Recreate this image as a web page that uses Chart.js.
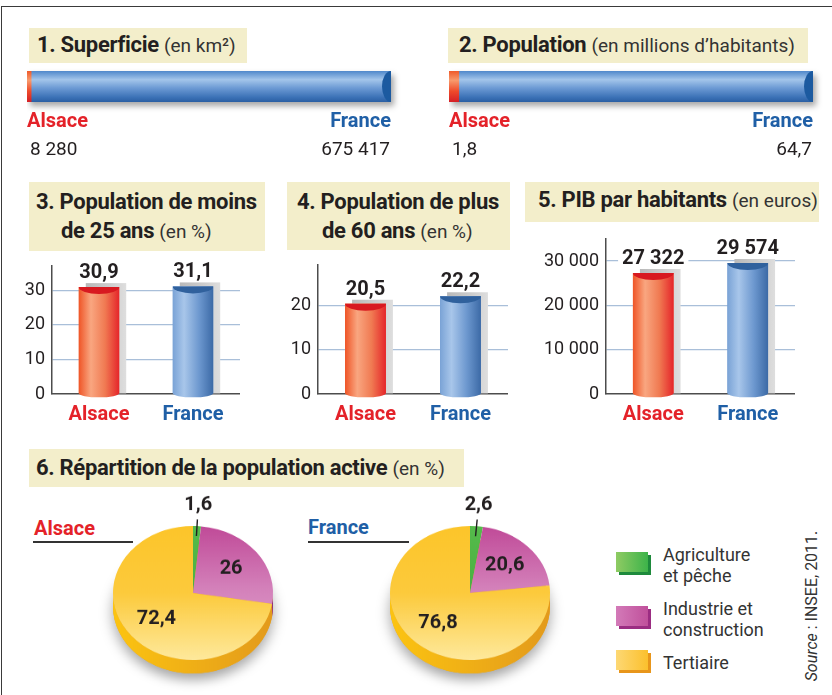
<!DOCTYPE html>
<html><head><meta charset="utf-8">
<script src="https://cdn.jsdelivr.net/npm/chart.js@4/dist/chart.umd.min.js"></script>
<style>
html,body{margin:0;padding:0;background:#fff;}
body{width:832px;height:695px;position:relative;overflow:hidden;font-family:Roboto,'DejaVu Sans',sans-serif;color:#231f20;}
.abs{position:absolute;}
.frame{position:absolute;left:1px;top:6px;width:900px;height:760px;border-top:1.5px solid #3a3a3a;border-left:1.5px solid #3a3a3a;}
.tbox{position:absolute;background:#f3eecb;}
.t{position:absolute;white-space:nowrap;font-size:22px;line-height:29px;font-weight:700;color:#231f20;letter-spacing:-0.3px;}
.t span{font-weight:400;font-size:19px;color:#333;letter-spacing:0;}
.rl{position:absolute;font-size:20px;line-height:24px;font-weight:700;white-space:nowrap;}
.ul{position:absolute;height:1.5px;background:#333;}
#legend{position:absolute;left:616px;top:544px;display:flex;flex-direction:column;gap:12px;}
.lrow{display:flex;align-items:center;}
.lbox{width:32px;height:20px;margin-right:15px;margin-top:-6px;}
.ltxt{font-size:18px;line-height:21px;color:#333;white-space:nowrap;}
.src{position:absolute;left:732px;top:596px;width:160px;text-align:center;font-size:16px;line-height:20px;color:#333;transform:rotate(-90deg);white-space:nowrap;}
</style></head>
<body>
<div class="frame"></div>

<div class="tbox" style="left:29px;top:28px;width:218px;height:35px"></div>
<div class="t" style="left:37px;top:30px">1. Superficie <span>(en km²)</span></div>
<div class="tbox" style="left:448px;top:28px;width:360px;height:35px"></div>
<div class="t" style="left:459px;top:30px">2. Population <span>(en millions d’habitants)</span></div>

<div class="tbox" style="left:29px;top:182px;width:236px;height:69px"></div>
<div class="t" style="left:36px;top:187px">3. Population de moins</div>
<div class="t" style="left:61px;top:216px">de 25 ans <span>(en %)</span></div>
<div class="tbox" style="left:287px;top:182px;width:223px;height:68px"></div>
<div class="t" style="left:297px;top:187px">4. Population de plus</div>
<div class="t" style="left:322px;top:216px">de 60 ans <span>(en %)</span></div>
<div class="tbox" style="left:525px;top:182px;width:294px;height:40px"></div>
<div class="t" style="left:538px;top:185px">5. PIB par habitants <span>(en euros)</span></div>

<div class="tbox" style="left:29px;top:449px;width:435px;height:38px"></div>
<div class="t" style="left:36px;top:453px">6. Répartition de la population active <span>(en %)</span></div>

<div class="abs" style="left:27px;top:65px;width:374px;height:100px"><canvas id="c1"></canvas></div>
<div class="abs" style="left:449px;top:65px;width:374px;height:100px"><canvas id="c2"></canvas></div>
<div class="abs" style="left:12px;top:256px;width:228px;height:178px"><canvas id="c3"></canvas></div>
<div class="abs" style="left:278px;top:255px;width:230px;height:179px"><canvas id="c4"></canvas></div>
<div class="abs" style="left:526px;top:229px;width:269px;height:205px"><canvas id="c5"></canvas></div>

<div class="rl" id="lblA" style="left:34px;top:516px"></div>
<div class="ul" style="left:33px;top:541px;width:100px"></div>
<div class="rl" id="lblF" style="left:308px;top:515px"></div>
<div class="ul" style="left:308px;top:541px;width:101px"></div>

<div class="abs" id="p1" style="left:93px;top:473px;width:200px;height:240px;transform-origin:100px 120px"><canvas id="c6"></canvas></div>
<div class="abs" id="p2" style="left:370px;top:473px;width:200px;height:240px;transform-origin:100px 120px"><canvas id="c7"></canvas></div>

<div id="legend"></div>
<div class="src"><i>Source</i> : INSEE, 2011.</div>

<script>
// ---------- DATA ----------
const regions = ['Alsace', 'France'];
const superficie = [8280, 675417];
const population = [1.8, 64.7];
const moins25 = [30.9, 31.1];
const plus60 = [20.5, 22.2];
const pib = [27322, 29574];
const ticksPct3 = [0, 10, 20, 30];
const ticksPct4 = [0, 10, 20];
const ticksPib = [0, 10000, 20000, 30000];
const secteurs = [['Agriculture', 'et pêche'], ['Industrie et', 'construction'], ['Tertiaire']];
const activeAlsace = [1.6, 26, 72.4];
const activeFrance = [2.6, 20.6, 76.8];

// ---------- STYLE ----------
const regionColors = ['#e42229', '#1f5fa6'];
const FONT = 'Roboto';
const TXT = '#231f20';
const PIE_K = 0.8375;
Chart.defaults.font.family = FONT;
Chart.defaults.animation = false;

function fmt(v) {
  const s = String(v).split('.');
  s[0] = s[0].replace(/\B(?=(\d{3})+(?!\d))/g, ' ');
  return s.join(',');
}

// ---------- horizontal bars ----------
const hbarPlugin = {
  id: 'hbar3d',
  beforeDatasetsDraw(chart) {
    const ctx = chart.ctx;
    const el = chart.getDatasetMeta(1).data[0];
    const p = el.getProps(['x', 'y', 'base', 'height'], true);
    ctx.save();
    ctx.shadowColor = 'rgba(0,0,0,0.35)';
    ctx.shadowBlur = 6; ctx.shadowOffsetX = 3; ctx.shadowOffsetY = 4;
    ctx.fillStyle = '#4a7fc4';
    ctx.fillRect(p.base, p.y - p.height / 2, p.x - p.base, p.height);
    ctx.restore();
  },
  afterDatasetsDraw(chart) {
    const ctx = chart.ctx, ca = chart.chartArea;
    const stops = [
      [[0, '#ef5a2a'], [0.3, '#f89a6c'], [0.65, '#ee4b2b'], [1, '#d41f26']],
      [[0, '#5088cb'], [0.28, '#a3c5ea'], [0.55, '#6c9ad4'], [0.85, '#3b71b6'], [1, '#2a5fa3']]
    ];
    [1, 0].forEach(di => {
      const el = chart.getDatasetMeta(di).data[0];
      const p = el.getProps(['x', 'y', 'base', 'height'], true);
      const top = p.y - p.height / 2;
      const g = ctx.createLinearGradient(0, top, 0, top + p.height);
      stops[di].forEach(s => g.addColorStop(s[0], s[1]));
      ctx.fillStyle = g;
      ctx.fillRect(p.base, top, p.x - p.base, p.height);
      if (di === 1) {
        ctx.beginPath();
        ctx.ellipse(p.x, p.y, 9, p.height / 2, 0, Math.PI / 2, Math.PI * 1.5);
        ctx.closePath();
        ctx.fillStyle = '#1c5aa0';
        ctx.fill();
      }
    });
    const vals = chart.data.datasets.map(d => d.data[0]);
    ctx.save();
    ctx.font = 'bold 20px ' + FONT;
    ctx.textBaseline = 'alphabetic';
    ctx.fillStyle = regionColors[0]; ctx.textAlign = 'left';
    ctx.fillText(regions[0], ca.left, ca.bottom + 25);
    ctx.fillStyle = regionColors[1]; ctx.textAlign = 'right';
    ctx.fillText(regions[1], ca.right, ca.bottom + 25);
    ctx.font = '19px ' + FONT; ctx.fillStyle = TXT;
    ctx.textAlign = 'left';
    ctx.fillText(fmt(vals[0]), ca.left + 3, ca.bottom + 53);
    ctx.textAlign = 'right';
    ctx.fillText(fmt(vals[1]), ca.right - 1, ca.bottom + 53);
    ctx.restore();
  }
};

function hbar(id, values) {
  new Chart(document.getElementById(id), {
    type: 'bar',
    data: {
      labels: [''],
      datasets: regions.map((r, i) => ({
        label: r, data: [values[i]], grouped: false, order: i + 1,
        backgroundColor: i === 0 ? '#ee4b2b' : '#4f84c8',
        barPercentage: 1, categoryPercentage: 1
      }))
    },
    options: {
      indexAxis: 'y', responsive: true, maintainAspectRatio: false,
      layout: { padding: { left: 0, right: 10, top: 6, bottom: 63 } },
      scales: { x: { display: false, min: 0, max: values[1] }, y: { display: false } },
      plugins: { legend: { display: false }, tooltip: { enabled: false } }
    },
    plugins: [hbarPlugin]
  });
}

// ---------- vertical cylinders ----------
const cylColors = [
  { stops: [[0, '#ef5527'], [0.3, '#f9a680'], [0.65, '#f07a52'], [1, '#e5252a']], cap: '#d81920' },
  { stops: [[0, '#7aa3d6'], [0.28, '#a8c6ea'], [0.65, '#6d98cf'], [1, '#3c6aa6']], cap: '#30619d' }
];
const cylPlugin = {
  id: 'cyl',
  beforeDatasetsDraw(chart) {
    const ctx = chart.ctx;
    chart.getDatasetMeta(0).data.forEach(el => {
      const p = el.getProps(['x', 'y', 'base', 'width'], true);
      const l = p.x - p.width / 2 + 7, t = p.y - 4;
      const g = ctx.createLinearGradient(l, 0, l + p.width, 0);
      g.addColorStop(0, '#b9b9b9'); g.addColorStop(0.6, '#cdcdcd'); g.addColorStop(1, '#dedede');
      ctx.fillStyle = g;
      ctx.fillRect(l, t, p.width, p.base - t);
    });
  },
  afterDatasetsDraw(chart) {
    const ctx = chart.ctx;
    const data = chart.data.datasets[0].data;
    chart.getDatasetMeta(0).data.forEach((el, i) => {
      const p = el.getProps(['x', 'y', 'base', 'width'], true);
      const hw = p.width / 2, l = p.x - hw, r = p.x + hw;
      const g = ctx.createLinearGradient(l, 0, r, 0);
      cylColors[i].stops.forEach(s => g.addColorStop(s[0], s[1]));
      ctx.beginPath();
      ctx.moveTo(l, p.y);
      ctx.lineTo(l, p.base);
      ctx.ellipse(p.x, p.base, hw, 4, 0, Math.PI, 0, true);
      ctx.lineTo(r, p.y);
      ctx.closePath();
      ctx.fillStyle = g; ctx.fill();
      ctx.beginPath();
      ctx.ellipse(p.x, p.y, hw, 7, 0, 0, Math.PI);
      ctx.closePath();
      ctx.fillStyle = cylColors[i].cap; ctx.fill();
      ctx.save();
      ctx.font = 'bold 20px ' + FONT;
      const txt = fmt(data[i]);
      const tw = ctx.measureText(txt).width;
      ctx.fillStyle = '#fff';
      ctx.fillRect(p.x - tw / 2 - 4, p.y - 9 - 17, tw + 8, 21);
      ctx.fillStyle = TXT; ctx.textAlign = 'center'; ctx.textBaseline = 'alphabetic';
      ctx.fillText(txt, p.x, p.y - 9);
      ctx.restore();
    });
  }
};

function vbar(id, values, max, ticks, yw) {
  new Chart(document.getElementById(id), {
    type: 'bar',
    data: {
      labels: regions,
      datasets: [{ data: values, backgroundColor: ['#f0643a', '#6f9ad0'], barPercentage: 0.43, categoryPercentage: 1 }]
    },
    options: {
      responsive: true, maintainAspectRatio: false,
      layout: { padding: { left: 0, right: 0, top: 10, bottom: 0 } },
      scales: {
        y: {
          min: 0, max: max,
          afterBuildTicks: s => { s.ticks = ticks.map(v => ({ value: v })); },
          afterFit: s => { s.width = yw; s.paddingTop = 0; s.paddingBottom = 0; },
          ticks: { callback: v => fmt(v), color: TXT, font: { size: 18 }, padding: 7 },
          grid: { color: c => (c.tick && c.tick.value === 0) ? 'rgba(0,0,0,0)' : '#a9bfd9', lineWidth: 1.3, drawTicks: false },
          border: { display: true, color: '#4d4d4d', width: 1.5 }
        },
        x: {
          afterFit: s => { s.height = 40; s.paddingLeft = 0; s.paddingRight = 0; },
          ticks: { color: c => regionColors[c.index], font: { size: 20, weight: 'bold' }, padding: 9 },
          grid: { display: false, drawTicks: false },
          border: { display: true, color: '#4d4d4d', width: 1.5 }
        }
      },
      plugins: { legend: { display: false }, tooltip: { enabled: false } }
    },
    plugins: [cylPlugin]
  });
}

// ---------- pies ----------
const faceStops = [
  [[0, '#55bb4b'], [1, '#3ea53a']],
  [[0, '#c04a98'], [0.45, '#d37fb9'], [1, '#e3aad2']],
  [[0, '#fcc52a'], [0.5, '#fcca3c'], [1, '#fee99c']]
];
const sideColors = [
  ['#3a9c3a', '#2a8a34'],
  ['#b0428a', '#93307a'],
  ['#fcc411', '#e39a1c']
];
function faceColor(c) {
  const chart = c.chart, ca = chart.chartArea, i = c.dataIndex;
  if (!ca) return faceStops[i][0][1];
  const g = chart.ctx.createLinearGradient(0, ca.top, 0, ca.bottom);
  faceStops[i].forEach(s => g.addColorStop(s[0], s[1]));
  return g;
}
const pie3d = {
  id: 'pie3d',
  beforeDatasetsDraw(chart) {
    const ctx = chart.ctx, arcs = chart.getDatasetMeta(0).data;
    if (!arcs.length) return;
    const c = arcs[0].getProps(['x', 'y', 'outerRadius'], true);
    const depth = 16;
    ctx.save();
    ctx.shadowColor = 'rgba(0,0,0,0.35)'; ctx.shadowBlur = 14; ctx.shadowOffsetY = 8;
    ctx.beginPath(); ctx.arc(c.x, c.y + depth, c.outerRadius, 0, Math.PI * 2);
    ctx.fillStyle = '#e9a51a'; ctx.fill();
    ctx.restore();
    arcs.forEach((a, i) => {
      const p = a.getProps(['startAngle', 'endAngle'], true);
      const lo = Math.max(p.startAngle, 0), hi = Math.min(p.endAngle, Math.PI);
      if (lo >= hi) return;
      const g = ctx.createLinearGradient(c.x - c.outerRadius, 0, c.x + c.outerRadius, 0);
      g.addColorStop(0, sideColors[i][0]); g.addColorStop(1, sideColors[i][1]);
      ctx.beginPath();
      ctx.arc(c.x, c.y, c.outerRadius, lo, hi);
      ctx.arc(c.x, c.y + depth, c.outerRadius, hi, lo, true);
      ctx.closePath();
      ctx.fillStyle = g; ctx.fill();
    });
  },
  afterDatasetsDraw(chart) {
    const ctx = chart.ctx, arcs = chart.getDatasetMeta(0).data;
    const data = chart.data.datasets[0].data;
    const tot = data.reduce((a, b) => a + b, 0);
    arcs.forEach((a, i) => {
      const p = a.getProps(['x', 'y', 'startAngle', 'endAngle', 'outerRadius'], true);
      const mid = (p.startAngle + p.endAngle) / 2, cs = Math.cos(mid), sn = Math.sin(mid), r = p.outerRadius;
      let rr;
      ctx.save();
      ctx.fillStyle = TXT; ctx.strokeStyle = TXT;
      if (data[i] / tot < 0.05) {
        ctx.lineWidth = 1.4;
        ctx.beginPath();
        ctx.moveTo(p.x + cs * (r - 12), p.y + sn * (r - 12));
        ctx.lineTo(p.x + cs * (r + 8), p.y + sn * (r + 8));
        ctx.stroke();
        rr = r + 25;
      } else rr = r * 0.6;
      ctx.translate(p.x + cs * rr, p.y + sn * rr);
      ctx.scale(1, 1 / PIE_K);
      ctx.font = 'bold 20px ' + FONT;
      ctx.textAlign = 'center'; ctx.textBaseline = 'middle';
      ctx.fillText(fmt(data[i]), 0, 0);
      ctx.restore();
    });
  }
};
function pie(id, values) {
  new Chart(document.getElementById(id), {
    type: 'pie',
    data: { labels: secteurs.map(s => s.join(' ')), datasets: [{ data: values, backgroundColor: faceColor, borderWidth: 0 }] },
    options: {
      responsive: true, maintainAspectRatio: false,
      layout: { padding: { left: 20, right: 20, top: 40, bottom: 40 } },
      plugins: { legend: { display: false }, tooltip: { enabled: false } }
    },
    plugins: [pie3d]
  });
}

// ---------- build ----------
hbar('c1', superficie);
hbar('c2', population);
vbar('c3', moins25, 37, ticksPct3, 40);
vbar('c4', plus60, 29.3, ticksPct4, 40);
vbar('c5', pib, 35000, ticksPib, 80);
document.getElementById('p1').style.transform = 'scaleY(' + PIE_K + ')';
document.getElementById('p2').style.transform = 'scaleY(' + PIE_K + ')';
pie('c6', activeAlsace);
pie('c7', activeFrance);

const la = document.getElementById('lblA'); la.textContent = regions[0]; la.style.color = regionColors[0];
const lf = document.getElementById('lblF'); lf.textContent = regions[1]; lf.style.color = regionColors[1];

const legendFace = [['#8fcb63', '#3db34a'], ['#d37ab8', '#c0509b'], ['#fdd874', '#fbc02d']];
const legendEdge = ['#1e8a3c', '#9b2d82', '#e8961b'];
const legendEl = document.getElementById('legend');
secteurs.forEach((lines, i) => {
  const row = document.createElement('div'); row.className = 'lrow';
  const box = document.createElement('div'); box.className = 'lbox';
  box.style.background = 'linear-gradient(90deg,' + legendFace[i][0] + ',' + legendFace[i][1] + ')';
  box.style.boxShadow = '3px 3px 0 ' + legendEdge[i];
  const txt = document.createElement('div'); txt.className = 'ltxt';
  txt.innerHTML = lines.join('<br>');
  row.appendChild(box); row.appendChild(txt);
  legendEl.appendChild(row);
});
</script>
</body></html>
